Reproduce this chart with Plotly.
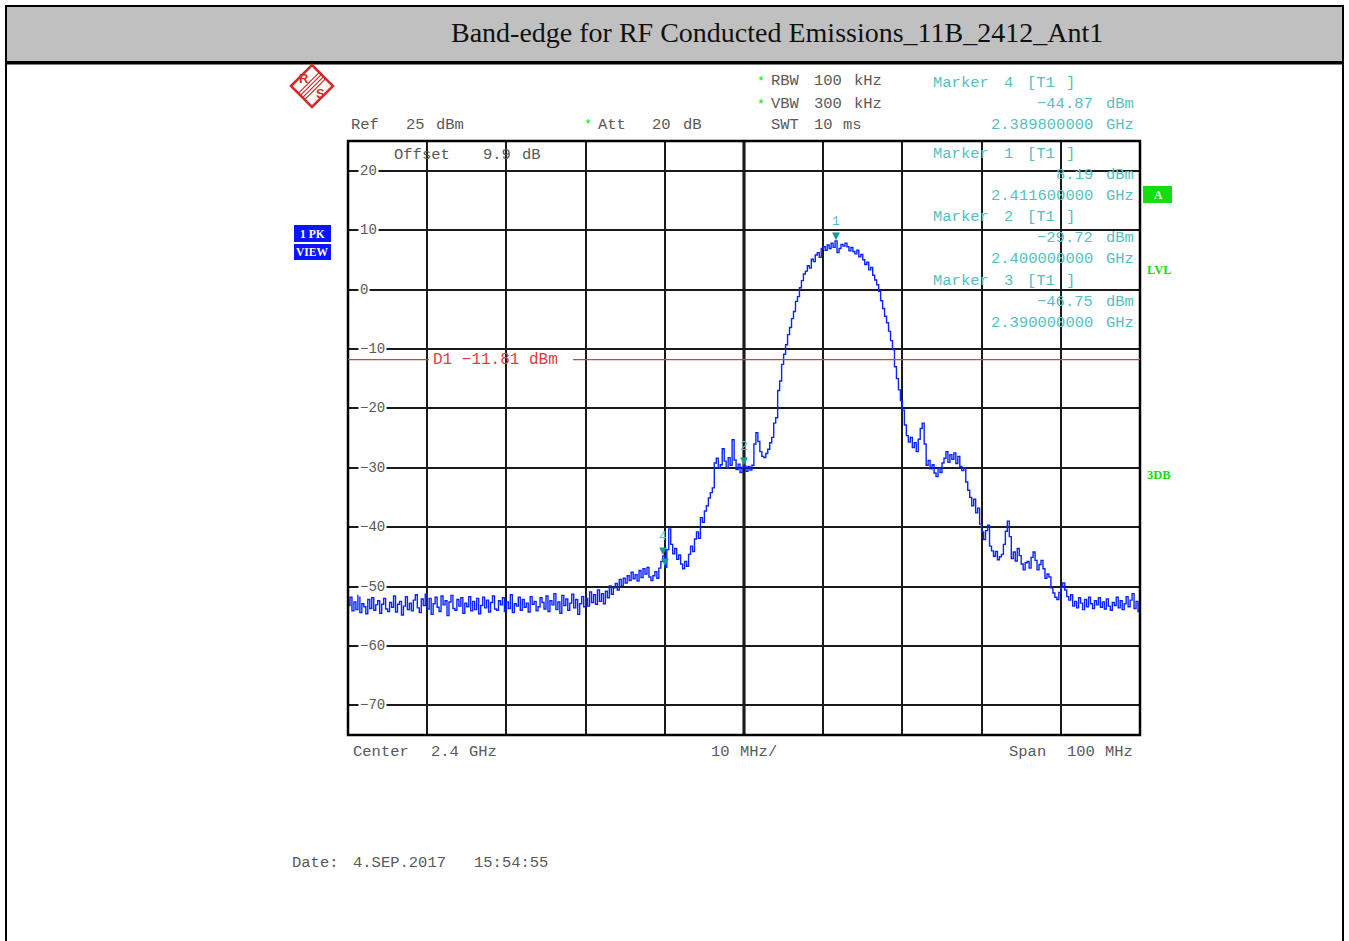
import numpy as np
import plotly.graph_objects as go

# Sweep settings (MHz)
START_MHZ = 2350.0
STOP_MHZ = 2450.0

# Trace 1 peak levels (dBm), one value every 0.25 MHz from 2350 to 2450 MHz
LEVELS = [
    -53.2, -51.8, -54.1, -52.6, -53.9, -51.5, -54.4, -52.9, -53.4, -54.6, -52.2, -53.7, -51.9, -54.0, -53.1, -52.4, -54.5, -53.0, -52.0, -53.8,
    -54.2, -52.7, -53.5, -51.6, -54.3, -53.0, -52.5, -54.8, -53.3, -51.7, -53.9, -52.8, -54.1, -52.3, -51.4, -53.6, -54.4, -52.1, -53.2, -51.3,
    -53.8, -52.0, -54.7, -52.9, -51.8, -53.5, -54.2, -51.6, -53.1, -52.4, -54.9, -52.6, -51.5, -53.7, -54.0, -52.2, -53.3, -51.9, -54.5, -52.8,
    -53.4, -51.7, -54.1, -52.5, -53.9, -52.0, -54.6, -53.2, -51.8, -53.6, -52.3, -54.3, -52.7, -51.6, -53.8, -54.0, -52.4, -53.1, -51.9, -54.2,
    -52.6, -53.7, -51.4, -54.4, -52.9, -53.3, -51.8, -54.0, -52.2, -53.5, -52.8, -54.3, -51.7, -53.0, -52.5, -54.1, -53.4, -51.9, -52.7, -53.8,
    -51.6, -54.2, -52.4, -53.1, -51.2, -53.9, -52.6, -54.5, -51.5, -53.2, -52.1, -54.0, -52.8, -51.3, -53.6, -52.2, -54.7, -52.9, -51.7, -53.4,
    -52.0, -53.3, -50.9, -52.7, -51.4, -53.0, -50.6, -52.5, -51.2, -52.9, -50.8, -51.9, -49.9, -51.3, -50.2, -49.5, -50.6, -48.8, -49.9, -48.6,
    -49.4, -48.2, -49.0, -47.6, -48.7, -48.0, -49.1, -47.3, -48.5, -47.0, -47.9, -46.8, -48.4, -49.0, -48.2, -47.5, -48.6, -46.9, -45.8, -44.87,
    -46.75, -43.8, -40.3, -42.9, -44.5, -43.6, -45.4, -44.7, -46.2, -47.0, -45.8, -46.6, -44.6, -43.2, -44.1, -42.0, -40.8, -41.9, -38.4, -39.2,
    -37.3, -36.4, -35.1, -34.2, -33.4, -29.2, -28.4, -30.1, -29.5, -26.8, -28.9, -30.0, -28.3, -29.6, -25.3, -28.7, -30.3, -29.4, -30.8, -29.9,
    -29.72, -30.6, -29.8, -30.4, -29.6, -26.0, -24.1, -25.6, -27.3, -28.1, -28.3, -27.6, -26.9, -25.8, -24.9, -22.5, -21.6, -17.0, -15.4, -12.6,
    -10.9, -9.3, -7.6, -6.4, -4.9, -3.7, -2.0, -1.2, 0.3, 1.5, 2.6, 3.1, 4.0, 3.6, 5.1, 4.7, 5.8, 6.2, 5.4, 6.9,
    7.2, 6.6, 7.5, 6.9, 7.8, 7.1, 8.19, 6.2, 6.9, 7.6, 7.3, 7.8, 7.2, 6.5, 7.1, 6.4, 6.0, 6.6, 5.5, 5.9,
    5.0, 4.2, 4.6, 3.3, 3.7, 2.4, 1.6, 0.8, -0.3, -1.9, -3.2, -4.5, -5.6, -7.0, -8.6, -10.1, -13.0, -15.0, -16.9, -18.7,
    -20.3, -22.8, -24.6, -25.7, -24.9, -26.6, -25.8, -27.3, -25.2, -23.4, -22.5, -26.0, -29.6, -28.8, -30.2, -29.5, -30.9, -31.5, -30.1, -30.8,
    -29.2, -28.4, -27.3, -29.1, -27.8, -28.6, -27.5, -29.3, -28.1, -29.8, -30.5, -30.0, -32.4, -33.8, -35.0, -36.4, -35.3, -37.6, -36.8, -39.5,
    -40.8, -42.1, -40.6, -39.7, -43.2, -44.0, -44.9, -44.1, -45.5, -45.0, -44.6, -42.9, -40.7, -39.0, -41.6, -45.3, -44.2, -45.7, -43.6, -44.8,
    -46.2, -47.2, -46.0, -45.8, -46.9, -45.1, -44.2, -45.6, -47.2, -46.3, -45.6, -47.0, -48.6, -47.9, -48.4, -50.2, -51.1, -51.8, -52.2, -51.0,
    -50.1, -49.4, -50.6, -51.7, -52.3, -51.4, -53.3, -52.5, -53.6, -51.9, -52.8, -53.9, -52.2, -53.4, -51.8, -52.9, -53.7, -52.4, -53.1, -51.9,
    -53.5, -52.6, -53.8, -52.1, -53.3, -54.0, -52.7, -53.2, -51.8, -53.6, -52.4, -53.9, -52.9, -51.7, -53.4, -52.3, -51.2, -53.7, -52.5, -54.2,
    -51.6,
]

# Markers: number, frequency (MHz), level (dBm)
MARKER_IDS = ["1", "2", "3", "4"]
MARKER_FREQ_MHZ = [2411.6, 2400.0, 2390.0, 2389.8]
MARKER_LEVEL = [8.19, -29.72, -46.75, -44.87]
MARKER_FREQ_TEXT = ["2.411600000", "2.400000000", "2.390000000", "2.389800000"]

# Display line D1
D1_LEVEL = -11.81

# Level scale
REF_LEVEL = 25
Y_TICKS = [20, 10, 0, -10, -20, -30, -40, -50, -60, -70]

TITLE = "Band-edge for RF Conducted Emissions_11B_2412_Ant1"

freq = np.linspace(START_MHZ, STOP_MHZ, len(LEVELS))

W, H = 1349, 941
L, R, T, B = 348, 1140, 141, 735  # plotting frame in page pixels

MONO = "Liberation Mono, Courier New, monospace"
GRAY = "#595959"
CYAN = "#55bfbf"
TEAL = "#109a9a"
GREEN = "#11dd11"
RED = "#e03c3c"
FS = 15.5


def px(x):
    return (x - L) / (R - L)


def py(y):
    return (B - y) / (B - T)


annotations = []
shapes = []


def text(x, y, s, color=GRAY, size=FS, anchor="left", family=MONO, bg=None, bold=False):
    if bold:
        s = "<b>" + s + "</b>"
    annotations.append(dict(
        x=px(x), y=py(y + 1), xref="paper", yref="paper", text=s, showarrow=False,
        xanchor=anchor, yanchor="middle", font=dict(family=family, size=size, color=color),
        bgcolor=bg, borderpad=0,
    ))


def pline(x0, y0, x1, y1, color="black", width=1):
    shapes.append(dict(type="line", xref="paper", yref="paper", x0=px(x0), y0=py(y0),
                       x1=px(x1), y1=py(y1), line=dict(color=color, width=width)))


def prect(x0, y0, x1, y1, fill, color=None, width=0):
    shapes.append(dict(type="rect", xref="paper", yref="paper", x0=px(x0), y0=py(y0),
                       x1=px(x1), y1=py(y1), fillcolor=fill,
                       line=dict(color=color or fill, width=width), layer="above"))


fig = go.Figure()
fig.add_trace(go.Scatter(
    x=freq, y=LEVELS, mode="lines",
    line=dict(color="#0a24ff", width=1.4, shape="hv"),
    hoverinfo="skip", showlegend=False,
))

# Page frame and title bar
prect(6, 6, 1343, 62, "#c0c0c0", "black", 2)
pline(6, 63, 1343, 63, "black", 3)
pline(6, 6, 6, 941, "black", 2)
pline(1343, 6, 1343, 941, "black", 2)
annotations.append(dict(
    x=px(777), y=py(33), xref="paper", yref="paper", text=TITLE, showarrow=False,
    xanchor="center", yanchor="middle",
    font=dict(family="Liberation Serif, Times New Roman, serif", size=28, color="#111111"),
))

# Plot frame and centre line
shapes.append(dict(type="rect", xref="paper", yref="paper", x0=0, y0=0, x1=1, y1=1,
                   line=dict(color="black", width=2.5), layer="above"))
shapes.append(dict(type="line", xref="x", yref="paper", x0=(START_MHZ + STOP_MHZ) / 2,
                   x1=(START_MHZ + STOP_MHZ) / 2, y0=0, y1=1,
                   line=dict(color="black", width=3), layer="below"))

# Display line D1, broken around its label
shapes.append(dict(type="line", xref="paper", yref="y", x0=0, x1=px(429), y0=D1_LEVEL, y1=D1_LEVEL,
                   line=dict(color=RED, width=1.2)))
shapes.append(dict(type="line", xref="paper", yref="y", x0=px(573), x1=1, y0=D1_LEVEL, y1=D1_LEVEL,
                   line=dict(color=RED, width=1.2)))
annotations.append(dict(x=px(431), y=D1_LEVEL, xref="paper", yref="y", showarrow=False,
                        text="D1 \u221211.81 dBm", xanchor="left", yanchor="middle",
                        font=dict(family=MONO, size=16, color=RED)))

# Level labels on the grid lines
for v in Y_TICKS:
    lab = str(v) if v >= 0 else "\u2212" + str(-v)
    annotations.append(dict(x=px(358), y=v, xref="paper", yref="y", showarrow=False,
                            text=lab, xanchor="left", yanchor="middle", bgcolor="white",
                            borderpad=1, font=dict(family=MONO, size=14, color=GRAY)))

# Instrument settings
text(350, 124, "Ref")
text(405, 124, "25")
text(435, 124, "dBm")
text(583, 124, "*", GREEN, 13)
text(597, 124, "Att")
text(651, 124, "20")
text(682, 124, "dB")
text(756, 80, "*", GREEN, 13)
text(770, 80, "RBW")
text(813, 80, "100")
text(853, 80, "kHz")
text(756, 103, "*", GREEN, 13)
text(770, 103, "VBW")
text(813, 103, "300")
text(853, 103, "kHz")
text(770, 124, "SWT")
text(813, 124, "10")
text(842, 124, "ms")
text(393, 154, "Offset")
text(482, 154, "9.9")
text(521, 154, "dB")

# Marker readouts
readout_rows = [(3, 82), (0, 153), (1, 216), (2, 280)]
for idx, y0 in readout_rows:
    text(932, y0, "Marker", CYAN)
    text(1003, y0, MARKER_IDS[idx], CYAN)
    text(1026, y0, "[T1", CYAN)
    text(1065, y0, "]", CYAN)
    val = MARKER_LEVEL[idx]
    sval = ("\u2212%.2f" % -val) if val < 0 else ("%.2f" % val)
    text(1094, y0 + 21, sval, CYAN, anchor="right")
    text(1135, y0 + 21, "dBm", CYAN, anchor="right")
    text(1094, y0 + 42, MARKER_FREQ_TEXT[idx], CYAN, anchor="right")
    text(1135, y0 + 42, "GHz", CYAN, anchor="right")

# Marker symbols on the trace
for mid, f, lv in zip(MARKER_IDS, MARKER_FREQ_MHZ, MARKER_LEVEL):
    annotations.append(dict(x=f, y=lv, xref="x", yref="y", text="\u25BC", showarrow=False,
                            xanchor="center", yanchor="bottom", yshift=-2,
                            font=dict(family="DejaVu Sans", size=10, color=TEAL)))
    if mid != "3":
        annotations.append(dict(x=f, y=lv, xref="x", yref="y", text=mid, showarrow=False,
                                xanchor="center", yanchor="bottom", yshift=10,
                                font=dict(family=MONO, size=13, color=CYAN)))

# Frequency axis captions
text(352, 751, "Center")
text(430, 751, "2.4")
text(468, 751, "GHz")
text(710, 751, "10")
text(739, 751, "MHz/")
text(1008, 751, "Span")
text(1066, 751, "100")
text(1134, 751, "MHz", anchor="right")
text(291, 862, "Date:")
text(352, 862, "4.SEP.2017")
text(473, 862, "15:54:55")

# Trace status boxes
prect(294, 225, 331, 242, "#0a14ff")
prect(294, 244, 331, 260, "#0a14ff")
text(312, 233, "1 PK", "white", 11.5, "center", bold=True, family="Liberation Serif, serif")
text(312, 251, "VIEW", "white", 11.5, "center", bold=True, family="Liberation Serif, serif")
prect(1143, 186, 1172, 203, "#11dd11")
text(1158, 194, "A", "white", 11.5, "center", bold=True, family="Liberation Serif, serif")
text(1146, 269, "LVL", GREEN, 12.5, bold=True, family="Liberation Serif, serif")
text(1146, 474, "3DB", GREEN, 12.5, bold=True, family="Liberation Serif, serif")

# Manufacturer logo
LOGO_RED = "#d42a2a"
cx, cy, rr = 312, 86, 21
path = "M {} {} L {} {} L {} {} L {} {} Z".format(
    px(cx - rr), py(cy), px(cx), py(cy - rr), px(cx + rr), py(cy), px(cx), py(cy + rr))
shapes.append(dict(type="path", xref="paper", yref="paper", path=path,
                   line=dict(color=LOGO_RED, width=2.5)))
for off in (-4.5, -1.5, 1.5, 4.5):
    d = off / 1.414
    pline(cx + 10.5 + d, cy - 10.5 + d, cx - 10.5 + d, cy + 10.5 + d, LOGO_RED, 1.2)
text(304, 78, "R", LOGO_RED, 13, "center", family="Liberation Sans, sans-serif", bold=True)
text(320, 93, "S", LOGO_RED, 13, "center", family="Liberation Sans, sans-serif", bold=True)

fig.update_layout(
    width=W, height=H, autosize=False,
    margin=dict(l=L, r=W - R, t=T, b=H - B, pad=0),
    paper_bgcolor="white", plot_bgcolor="white",
    showlegend=False,
    xaxis=dict(range=[START_MHZ, STOP_MHZ], tick0=START_MHZ, dtick=10, showgrid=True,
               gridcolor="#1a1a1a", gridwidth=1.6, showticklabels=False, zeroline=False,
               showline=False, ticks="", fixedrange=True),
    yaxis=dict(range=[REF_LEVEL - 100, REF_LEVEL], tick0=0, dtick=10, showgrid=True,
               gridcolor="#1a1a1a", gridwidth=1.6, showticklabels=False, zeroline=False,
               showline=False, ticks="", fixedrange=True),
    annotations=annotations,
    shapes=shapes,
)

fig.write_html("out.html", config={"displayModeBar": False})
